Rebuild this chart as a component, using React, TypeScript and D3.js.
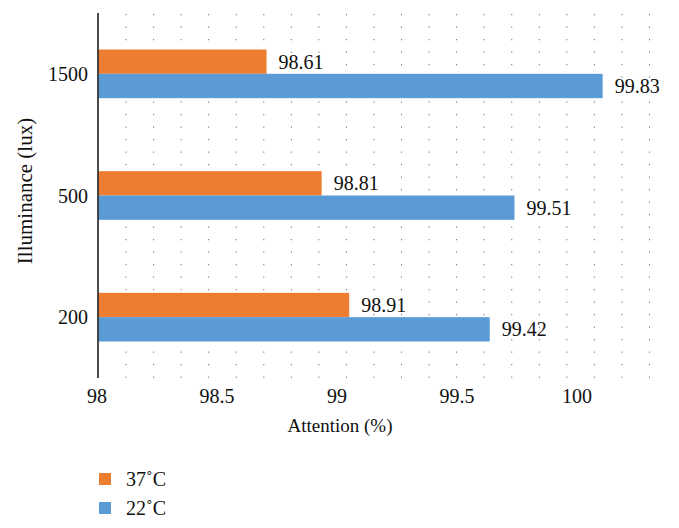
import React from 'react';
import * as d3 from 'd3';

// Illuminance levels (top to bottom) and attention values per temperature
const categories = ['1500', '500', '200'];
const attention37 = [98.61, 98.81, 98.91];
const attention22 = [99.83, 99.51, 99.42];
const seriesNames = ['37˚C', '22˚C'];
const seriesColors = ['#ED7D31', '#5B9BD5'];
const xTickLabels = [98, 98.5, 99, 99.5, 100];

const W = 679;
const H = 528;
const FONT = "'Liberation Serif', 'Times New Roman', serif";

const App = () => {
  // bar scale
  const x = d3.scaleLinear().domain([98, 100]).range([98.5, 649.5]);
  // the printed tick labels sit on their own spacing in the figure
  const xLabel = d3.scaleLinear().domain([98, 100]).range([97, 577]);

  const y = d3
    .scaleBand()
    .domain(categories)
    .range([13, 378])
    .paddingInner(0.6)
    .paddingOuter(0.3);

  const sub = d3.scaleBand().domain(seriesNames).range([0, y.bandwidth()]);

  const series = [attention37, attention22];

  // dotted vertical grid every 0.1
  const grid = x.ticks(20).filter(t => t > 98);

  const txt = { fontFamily: FONT, fill: '#111' };

  return (
    <svg
      width={W}
      height={H}
      style={{ position: 'absolute', left: 0, top: 0, background: '#fff', fontFamily: FONT }}
    >
      {grid.map(t => (
        <line
          key={t}
          x1={x(t)}
          x2={x(t)}
          y1={14}
          y2={378}
          stroke="#777"
          strokeWidth={1}
          strokeDasharray="1.3 11.2"
        />
      ))}

      {categories.map((c, i) => (
        <g key={c} transform={`translate(0, ${y(c)})`}>
          {series.map((vals, s) => {
            const v = vals[i];
            const by = sub(seriesNames[s]) as number;
            return (
              <g key={s}>
                <rect
                  x={x(98)}
                  y={by}
                  width={x(v) - x(98)}
                  height={sub.bandwidth()}
                  fill={seriesColors[s]}
                />
                <text
                  x={x(v) + 12}
                  y={by + sub.bandwidth() / 2}
                  dy="0.35em"
                  fontSize={20}
                  style={txt}
                >
                  {v.toFixed(2)}
                </text>
              </g>
            );
          })}
        </g>
      ))}

      {/* y axis line */}
      <line x1={98} x2={98} y1={13} y2={378} stroke="#111" strokeWidth={1.5} />

      {categories.map(c => (
        <text
          key={c}
          x={88}
          y={(y(c) as number) + y.bandwidth() / 2}
          dy="0.35em"
          textAnchor="end"
          fontSize={20}
          style={txt}
        >
          {c}
        </text>
      ))}

      {xTickLabels.map(t => (
        <text
          key={t}
          x={xLabel(t)}
          y={403}
          textAnchor="middle"
          fontSize={20}
          style={txt}
        >
          {t}
        </text>
      ))}

      <text x={340} y={432} textAnchor="middle" fontSize={19} style={txt}>
        Attention (%)
      </text>

      <text
        transform="translate(25, 191) rotate(-90)"
        dy="0.35em"
        textAnchor="middle"
        fontSize={21}
        style={txt}
      >
        Illuminance (lux)
      </text>

      {/* legend */}
      {seriesNames.map((name, s) => (
        <g key={name} transform={`translate(99, ${473 + s * 29})`}>
          <rect width={12} height={12} fill={seriesColors[s]} />
          <text x={27} y={6} dy="0.35em" fontSize={20} style={txt}>
            {name}
          </text>
        </g>
      ))}
    </svg>
  );
};

export default App;
